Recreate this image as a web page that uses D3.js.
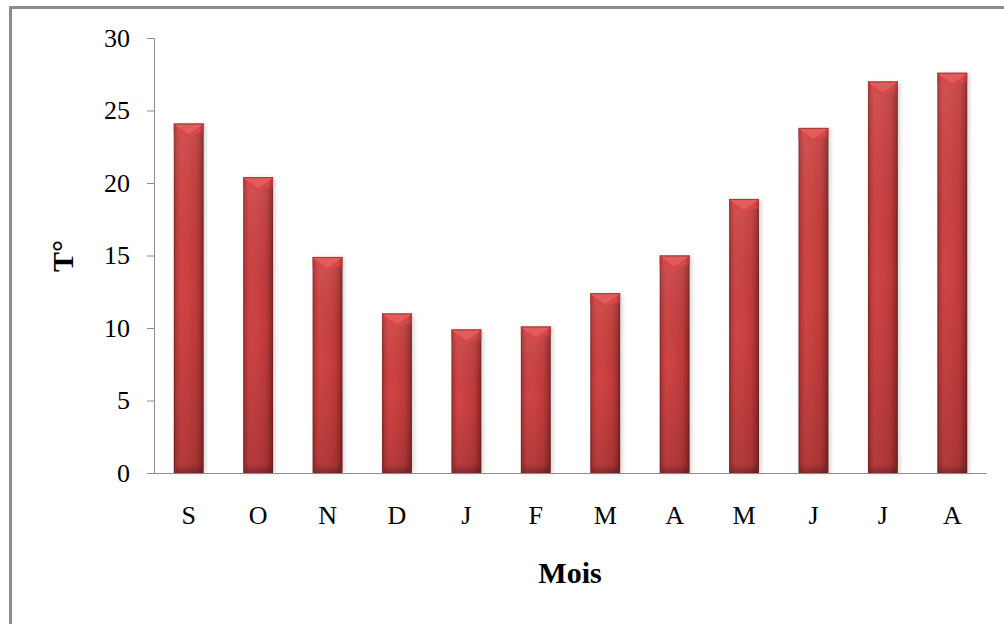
<!DOCTYPE html>
<html>
<head>
<meta charset="utf-8">
<script src="https://cdn.jsdelivr.net/npm/d3@7"></script>
<style>
  html, body { margin: 0; padding: 0; background: #fff; }
  svg { display: block; }
</style>
</head>
<body>
<svg id="chart" width="1004" height="624"></svg>
<script>
const months = ["S", "O", "N", "D", "J", "F", "M", "A", "M", "J", "J", "A"];
const temps = [24.1, 20.4, 14.9, 11.0, 9.9, 10.1, 12.4, 15.0, 18.9, 23.8, 27.0, 27.6];
const yTicks = [0, 5, 10, 15, 20, 25, 30];
const yTitle = "T°";
const xTitle = "Mois";

const svg = d3.select("#chart");
const W = 1004, H = 624;
const margin = { left: 154, right: 17, top: 38, bottom: 151 };
const plotW = W - margin.left - margin.right;
const plotH = H - margin.top - margin.bottom;

// outer frame (only top and left visible in crop)
svg.append("rect")
  .attr("x", 10.5).attr("y", 7.5)
  .attr("width", 1100).attr("height", 800)
  .attr("fill", "none").attr("stroke", "#8c8c8c").attr("stroke-width", 3);

const defs = svg.append("defs");
const gBody = defs.append("linearGradient").attr("id", "gBody")
  .attr("x1", "0").attr("x2", "1").attr("y1", "0").attr("y2", "0");
[[0, "#7e2323"], [0.07, "#b63838"], [0.22, "#cf4444"], [0.45, "#cc4242"], [0.75, "#c03b3b"], [0.92, "#9c2e2e"], [1, "#6e1e1e"]]
  .forEach(([o, c]) => gBody.append("stop").attr("offset", o).attr("stop-color", c));
const gShade = defs.append("linearGradient").attr("id", "gShade")
  .attr("x1", "0").attr("x2", "0").attr("y1", "0").attr("y2", "1");
[[0, "#ffffff", 0.08], [0.5, "#000000", 0.0], [1, "#000000", 0.14]]
  .forEach(([o, c, a]) => gShade.append("stop").attr("offset", o).attr("stop-color", c).attr("stop-opacity", a));
const gBottom = defs.append("linearGradient").attr("id", "gBottom")
  .attr("x1", "0").attr("x2", "0").attr("y1", "0").attr("y2", "1");
[[0, "#000000", 0], [1, "#000000", 0.25]]
  .forEach(([o, c, a]) => gBottom.append("stop").attr("offset", o).attr("stop-color", c).attr("stop-opacity", a));
const blur = defs.append("filter").attr("id", "shadow").attr("x", "-50%").attr("y", "-10%").attr("width", "200%").attr("height", "120%");
blur.append("feGaussianBlur").attr("stdDeviation", 2);

const g = svg.append("g").attr("transform", `translate(${margin.left},${margin.top})`);

const x = d3.scaleBand().domain(d3.range(months.length)).range([0, plotW]).paddingInner(0.57).paddingOuter(0.285);
const y = d3.scaleLinear().domain([0, 30]).range([plotH, 0]);

// bars
const bars = g.selectAll("g.bar").data(temps).join("g").attr("class", "bar");
bars.append("rect")
  .attr("x", (d, i) => x(i) + 2).attr("y", d => y(d) + 1)
  .attr("width", x.bandwidth()).attr("height", d => plotH - y(d) - 1)
  .attr("fill", "#000").attr("opacity", 0.18).attr("filter", "url(#shadow)");
bars.append("rect")
  .attr("x", (d, i) => x(i)).attr("y", d => y(d))
  .attr("width", x.bandwidth()).attr("height", d => plotH - y(d))
  .attr("fill", "url(#gBody)");
bars.append("rect")
  .attr("x", (d, i) => x(i)).attr("y", d => y(d))
  .attr("width", x.bandwidth()).attr("height", d => plotH - y(d))
  .attr("fill", "url(#gShade)");
bars.append("rect")
  .attr("x", (d, i) => x(i) + 2).attr("y", plotH - 9)
  .attr("width", x.bandwidth() - 4).attr("height", 9)
  .attr("fill", "url(#gBottom)");
// top bevel: side facets
bars.append("path")
  .attr("d", (d, i) => {
    const x0 = x(i), x1 = x(i) + x.bandwidth(), y0 = y(d);
    return `M${x0},${y0}L${x0 + 3},${y0 + 3}L${x0 + 3},${y0 + 10}L${x0},${y0 + 10}Z M${x1},${y0}L${x1 - 3},${y0 + 3}L${x1 - 3},${y0 + 10}L${x1},${y0 + 10}Z`;
  })
  .attr("fill", "#b83a3a");
// top facet
bars.append("path")
  .attr("d", (d, i) => {
    const x0 = x(i), x1 = x(i) + x.bandwidth(), y0 = y(d), cx = (x0 + x1) / 2;
    return `M${x0},${y0}L${x1},${y0}L${x1 - 3},${y0 + 3}L${cx},${y0 + 11}L${x0 + 3},${y0 + 3}Z`;
  })
  .attr("fill", "#e35c5c");
// lower chevron facets
bars.append("path")
  .attr("d", (d, i) => {
    const x0 = x(i), x1 = x(i) + x.bandwidth(), y0 = y(d), cx = (x0 + x1) / 2;
    return `M${x0 + 3},${y0 + 3}L${cx},${y0 + 11}L${x1 - 3},${y0 + 3}L${x1 - 3},${y0 + 9}L${cx},${y0 + 14}L${x0 + 3},${y0 + 9}Z`;
  })
  .attr("fill", "#d54848");
bars.append("rect")
  .attr("x", (d, i) => x(i)).attr("y", d => y(d))
  .attr("width", x.bandwidth()).attr("height", 1)
  .attr("fill", "#7a2424").attr("opacity", 0.6);

// y axis
const yAxis = g.append("g")
  .call(d3.axisLeft(y).tickValues(yTicks).tickSize(7).tickPadding(17).tickFormat(d3.format("d")));
yAxis.select(".domain").attr("stroke", "#8c8c8c").attr("d", `M-7,0.5H0.5V${plotH}`);
yAxis.selectAll(".tick line").attr("stroke", "#8c8c8c");
yAxis.selectAll("text").attr("font-family", "'Liberation Serif', 'Times New Roman', serif")
  .attr("font-size", 26).attr("fill", "#000");

// x axis
const xAxis = g.append("g").attr("transform", `translate(0,${plotH})`)
  .call(d3.axisBottom(x).tickSize(0).tickPadding(33).tickFormat(i => months[i]));
xAxis.select(".domain").attr("stroke", "#8c8c8c").attr("d", `M-7,0.5H${plotW}`);
xAxis.selectAll("text").attr("font-family", "'Liberation Serif', 'Times New Roman', serif")
  .attr("font-size", 26).attr("fill", "#000");

// titles
svg.append("text")
  .attr("transform", "translate(73,256) rotate(-90)")
  .attr("text-anchor", "middle")
  .attr("font-family", "'Liberation Serif', 'Times New Roman', serif")
  .attr("font-weight", "bold").attr("font-size", 30)
  .text(yTitle);
svg.append("text")
  .attr("x", 570).attr("y", 583)
  .attr("text-anchor", "middle")
  .attr("font-family", "'Liberation Serif', 'Times New Roman', serif")
  .attr("font-weight", "bold").attr("font-size", 30)
  .text(xTitle);
</script>
</body>
</html>
